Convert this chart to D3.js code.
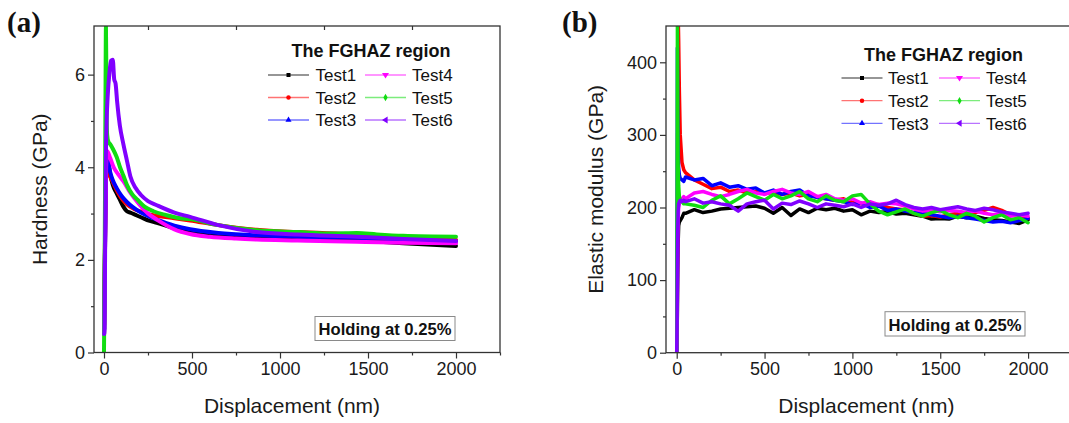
<!DOCTYPE html>
<html><head><meta charset="utf-8">
<script src="https://cdn.jsdelivr.net/npm/d3@7"></script>
<style>
html,body{margin:0;padding:0;background:#fff;}
svg{display:block;font-family:"Liberation Sans",Arial,sans-serif;}
</style></head><body>
<svg id="fig" width="1069" height="423"></svg>
<script>
// ---- series definitions ----
const seriesNames  = ["Test1", "Test2", "Test3", "Test4", "Test5", "Test6"];
const seriesColors = ["#000000", "#ff0000", "#0000ff", "#ff00ff", "#11dd11", "#8000ff"];
const legendTitle  = "The FGHAZ region";
const noteText     = "Holding at 0.25%";

// ---- axis ticks ----
const dispMajorTicks = [0, 500, 1000, 1500, 2000];
const dispMinorTicks = [250, 750, 1250, 1750, 2250];
const hardMajorTicks = [0, 2, 4, 6];
const hardMinorTicks = [1, 3, 5];
const modMajorTicks  = [0, 100, 200, 300, 400];
const modMinorTicks  = [50, 150, 250, 350];

// ---- (a) hardness vs displacement: [nm, GPa] ----
const hardnessTest1 = [[1,0.5],[4,1.6],[8,3.0],[12,3.9],[18,4.25],[25,4.1],[35,3.85],[50,3.62],[70,3.45],[90,3.3],[110,3.15],[130,3.05],[150,3.02],[180,2.97],[210,2.92],[260,2.84],[300,2.8],[400,2.68],[500,2.6],[650,2.55],[868,2.51],[1100,2.47],[1436,2.42],[1700,2.36],[2000,2.3]];
const hardnessTest2 = [[1,0.6],[4,1.8],[8,3.2],[12,3.9],[16,4.15],[22,4.0],[30,3.85],[45,3.72],[60,3.6],[80,3.45],[100,3.33],[130,3.2],[170,3.1],[210,3.04],[260,2.98],[300,2.95],[400,2.9],[489,2.85],[650,2.75],[868,2.65],[1100,2.6],[1436,2.55],[1700,2.49],[2000,2.43]];
const hardnessTest3 = [[1,0.5],[4,1.7],[8,3.1],[12,3.9],[18,4.15],[25,4.1],[35,3.9],[50,3.72],[72,3.55],[100,3.38],[130,3.25],[160,3.15],[210,3.02],[260,2.93],[300,2.87],[400,2.74],[489,2.66],[650,2.58],[868,2.53],[1100,2.5],[1436,2.48],[1700,2.44],[2000,2.39]];
const hardnessTest4 = [[1,0.4],[4,1.5],[8,3.0],[12,4.0],[18,4.35],[25,4.3],[35,4.2],[55,4.0],[80,3.85],[110,3.7],[150,3.45],[200,3.2],[250,3.0],[300,2.87],[400,2.66],[489,2.56],[600,2.5],[750,2.46],[868,2.44],[1100,2.42],[1436,2.39],[1700,2.37],[2000,2.36]];
const hardnessTest5 = [[0,0],[3,1.5],[6,3.6],[9,5.9],[11,7.05],[13,6.2],[15,5.1],[18,4.7],[25,4.55],[35,4.5],[50,4.4],[72,4.22],[91,4.0],[110,3.82],[130,3.62],[160,3.42],[190,3.3],[230,3.15],[281,3.05],[350,2.97],[433,2.9],[489,2.88],[650,2.75],[868,2.64],[1100,2.6],[1300,2.57],[1436,2.58],[1550,2.55],[1700,2.52],[2000,2.5]];
const hardnessTest6 = [[1,0.4],[3,0.5],[6,2.0],[10,4.0],[15,5.0],[22,5.6],[30,6.0],[40,6.3],[50,6.32],[58,5.9],[66,5.8],[75,5.4],[90,4.9],[110,4.5],[130,4.15],[150,3.8],[180,3.55],[210,3.4],[250,3.27],[300,3.18],[400,3.02],[489,2.93],[650,2.75],[868,2.6],[1100,2.55],[1436,2.5],[1700,2.45],[2000,2.41]];

// ---- (b) elastic modulus vs displacement ----
const modulusDisp = [0,2,4,6,8,11,15,20,30,40,
  50,100,150,200,250,300,350,400,450,500,550,600,650,700,750,800,850,900,950,1000,
  1050,1100,1150,1200,1250,1300,1350,1400,1450,1500,1550,1600,1650,1700,1750,1800,1850,1900,1950,2000];
const modulusTest1 = [0,20,60,110,150,175,180,182,186,192,
  192,197,193,195,198,199,200,201,202,199,192,200,189,198,193,199,197,199,195,197,
  190,195,193,194,191,192,190,188,184,185,184,188,186,188,185,183,182,180,178,183];
const modulusTest2 = [0,40,150,330,470,430,360,300,262,252,
  248,238,232,226,228,222,224,220,222,219,221,218,220,216,218,214,212,210,212,207,
  205,203,204,200,198,197,192,188,189,187,190,192,190,193,196,200,196,190,188,185];
const modulusTest3 = [0,120,420,330,280,255,245,240,238,236,
  242,238,240,230,234,228,230,225,227,220,224,218,222,224,216,214,212,210,208,204,
  206,200,202,196,198,195,193,192,190,188,186,188,186,184,182,180,181,179,182,185];
const modulusTest4 = [0,30,90,150,185,200,205,210,212,215,
  212,220,222,218,215,218,222,225,220,218,222,225,220,218,222,215,218,212,210,212,
  206,208,204,206,205,202,198,195,196,194,196,195,193,195,192,190,192,188,190,188];
const modulusTest5 = [0,150,455,330,260,230,215,210,208,205,
  205,203,200,210,216,205,212,220,215,210,218,212,216,222,212,208,216,210,208,216,
  218,205,195,190,194,198,192,188,193,196,190,186,192,188,180,186,190,183,186,179];
const modulusTest6 = [0,40,110,170,195,205,208,210,208,210,
  208,212,206,208,205,203,195,205,208,210,198,206,204,209,205,200,205,203,201,205,
  200,205,203,205,210,204,200,198,200,197,199,201,198,196,199,197,194,192,190,192];

const hardnessSeries = [hardnessTest1, hardnessTest2, hardnessTest3, hardnessTest4, hardnessTest5, hardnessTest6];
const modulusSeries = [modulusTest1, modulusTest2, modulusTest3, modulusTest4, modulusTest5, modulusTest6]
  .map(vals => vals.map((v, i) => [modulusDisp[i], v]));

// ---- marker shapes used in the legend ----
const triDown = { draw(ctx, size) { const r = Math.sqrt(size / 1.3); ctx.moveTo(-r, -r*0.6); ctx.lineTo(r, -r*0.6); ctx.lineTo(0, r); ctx.closePath(); } };
const triLeft = { draw(ctx, size) { const r = Math.sqrt(size / 1.3); ctx.moveTo(r*0.6, -r); ctx.lineTo(r*0.6, r); ctx.lineTo(-r, 0); ctx.closePath(); } };
const seriesSymbols = [d3.symbolSquare, d3.symbolCircle, d3.symbolTriangle, triDown, d3.symbolDiamond, triLeft];

const svg = d3.select("#fig");

function drawPanel(cfg) {
  const x = d3.scaleLinear().domain(cfg.xDomain).range([cfg.left, cfg.right]);
  const y = d3.scaleLinear().domain(cfg.yDomain).range([cfg.bottom, cfg.top]);
  const g = svg.append("g");

  const clipId = "clip-" + cfg.id;
  svg.append("defs").append("clipPath").attr("id", clipId)
    .append("rect").attr("x", cfg.left).attr("y", cfg.top)
    .attr("width", cfg.right - cfg.left).attr("height", cfg.bottom - cfg.top);

  // data curves
  const line = d3.line().x(d => x(d[0])).y(d => y(d[1])).curve(cfg.curve);
  const plot = g.append("g").attr("clip-path", `url(#${clipId})`);
  cfg.series.forEach((s, i) => {
    plot.append("path").datum(s)
      .attr("d", line).attr("fill", "none")
      .attr("stroke", seriesColors[i]).attr("stroke-width", cfg.lineWidth)
      .attr("stroke-linejoin", "round").attr("stroke-linecap", "round");
  });

  // axes
  const styleAxis = sel => {
    sel.select(".domain").remove();
    sel.selectAll(".tick line").attr("stroke", "#333").attr("stroke-width", 1.2);
    sel.selectAll(".tick text").attr("fill", "#1a1a1a").style("font-size", "18px")
      .style("font-family", "'Liberation Sans', Arial, sans-serif");
  };
  g.append("g").attr("transform", `translate(0,${cfg.bottom})`)
    .call(d3.axisBottom(x).tickValues(dispMajorTicks).tickSize(6).tickPadding(4).tickFormat(d3.format("d")))
    .call(styleAxis);
  g.append("g").attr("transform", `translate(0,${cfg.bottom})`)
    .call(d3.axisBottom(x).tickValues(dispMinorTicks.filter(v => x(v) <= cfg.right + 0.5)).tickSize(3).tickFormat(""))
    .call(styleAxis);
  g.append("g").attr("transform", `translate(${cfg.left},0)`)
    .call(d3.axisLeft(y).tickValues(cfg.yMajor).tickSize(6).tickPadding(3).tickFormat(d3.format("d")))
    .call(styleAxis);
  g.append("g").attr("transform", `translate(${cfg.left},0)`)
    .call(d3.axisLeft(y).tickValues(cfg.yMinor).tickSize(3).tickFormat(""))
    .call(styleAxis);
  if (cfg.topTicks) {
    g.append("g").attr("transform", `translate(0,${cfg.top})`)
      .call(d3.axisBottom(x).tickValues(cfg.topTicks).tickSize(4).tickFormat(""))
      .call(styleAxis);
  }

  // frame
  g.append("rect").attr("x", cfg.left).attr("y", cfg.top)
    .attr("width", cfg.right - cfg.left).attr("height", cfg.bottom - cfg.top)
    .attr("fill", "none").attr("stroke", "#333").attr("stroke-width", 1.3);

  // axis titles
  g.append("text").attr("x", (x(0) + x(2000)) / 2 + cfg.xTitleDx).attr("y", 413)
    .attr("text-anchor", "middle").attr("fill", "#1a1a1a").style("font-size", "21px")
    .text("Displacement (nm)");
  g.append("text").attr("transform", `translate(${cfg.yTitleX},${(cfg.top + cfg.bottom) / 2}) rotate(-90)`)
    .attr("text-anchor", "middle").attr("fill", "#1a1a1a").style("font-size", "21px")
    .text(cfg.yTitle);

  // panel tag
  g.append("text").attr("x", cfg.tagX).attr("y", 32)
    .style("font-family", "'Liberation Serif', 'Times New Roman', serif")
    .style("font-weight", "bold").style("font-size", "29px").attr("fill", "#111")
    .text(cfg.tag);

  // legend
  const L = cfg.legend;
  g.append("text").attr("x", L.titleX).attr("y", L.titleY).attr("text-anchor", "middle")
    .style("font-weight", "bold").style("font-size", "18px").attr("fill", "#111")
    .text(legendTitle);
  seriesNames.forEach((name, i) => {
    const col = Math.floor(i / 3), row = i % 3;
    const lx = L.lineX[col], ly = L.rowY[row];
    const item = g.append("g");
    item.append("line").attr("x1", lx).attr("x2", lx + 41).attr("y1", ly).attr("y2", ly)
      .attr("stroke", seriesColors[i]).attr("stroke-opacity", 0.55).attr("stroke-width", 1.3);
    item.append("path").attr("transform", `translate(${lx + 20.5},${ly})`)
      .attr("d", d3.symbol().type(seriesSymbols[i]).size(16)())
      .attr("fill", seriesColors[i]);
    item.append("text").attr("x", L.textX[col]).attr("y", ly + 6.3)
      .style("font-size", "17px").attr("fill", "#111").text(name);
  });

  // note box
  const B = cfg.box;
  g.append("rect").attr("x", B.x).attr("y", B.y).attr("width", B.w).attr("height", B.h)
    .attr("fill", "#fff").attr("stroke", "#8a8a8a").attr("stroke-width", 1);
  g.append("text").attr("x", B.x + B.w / 2).attr("y", B.y + B.h - 5.5).attr("text-anchor", "middle")
    .style("font-weight", "bold").style("font-size", "16.6px").attr("fill", "#111")
    .text(noteText);
}

drawPanel({
  id: "a", tag: "(a)", tagX: 7,
  left: 94, right: 500, top: 26, bottom: 352.5,
  xDomain: [-56.8, 2250], yDomain: [0, 7.05],
  yMajor: hardMajorTicks, yMinor: hardMinorTicks,
  topTicks: [250, 750, 1250, 1750],
  series: hardnessSeries, curve: d3.curveMonotoneX, lineWidth: 4,
  yTitle: "Hardness (GPa)", yTitleX: 47, xTitleDx: 12,
  legend: { titleX: 371, titleY: 57, rowY: [75, 97.5, 120], lineX: [268, 365], textX: [315.5, 412] },
  box: { x: 315, y: 316.5, w: 140, h: 24 }
});

drawPanel({
  id: "b", tag: "(b)", tagX: 562,
  left: 666, right: 1072, top: 26, bottom: 352.7,
  xDomain: [-61, 2250], yDomain: [0, 450],
  yMajor: modMajorTicks, yMinor: modMinorTicks,
  series: modulusSeries, curve: d3.curveLinear, lineWidth: 3.5,
  yTitle: "Elastic modulus (GPa)", yTitleX: 603, xTitleDx: 14,
  legend: { titleX: 943.5, titleY: 61, rowY: [78, 100.7, 123.3], lineX: [841.5, 939], textX: [888, 986] },
  box: { x: 885, y: 311.7, w: 140, h: 24.3 }
});
</script>
</body></html>
